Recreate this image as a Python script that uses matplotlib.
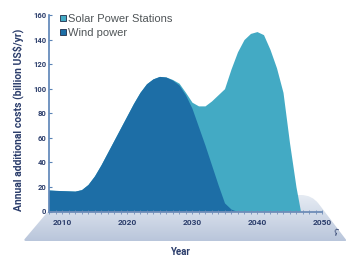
import matplotlib
matplotlib.use("Agg")
import matplotlib.pyplot as plt
import numpy as np
from matplotlib.path import Path
from matplotlib.patches import Patch, PathPatch
from matplotlib.colors import LinearSegmentedColormap
import matplotlib.font_manager as fm

# ---------------- data ----------------
years = [2008, 2009, 2010, 2011, 2012, 2013, 2014, 2015, 2016, 2017,
         2018, 2019, 2020, 2021, 2022, 2023, 2024, 2025, 2026, 2027,
         2028, 2029, 2030, 2031, 2032, 2033, 2034, 2035, 2036, 2037,
         2038, 2039, 2040, 2041, 2042, 2043, 2044, 2045, 2046, 2046.7]
wind = [17.5, 17.2, 17, 16.8, 16.6, 17.8, 22, 29, 38, 48,
        58, 68, 78, 88, 97, 104, 108, 110, 109.5, 107,
        103, 95, 84, 69, 54, 38, 22, 7, 2, 0,
        0, 0, 0, 0, 0, 0, 0, 0, 0, 0]
solar = [0, 0, 0, 0, 0, 0, 0, 0, 0, 0,
         0, 0, 0, 0, 0, 0, 0, 0, 0, 0.5,
         1.5, 2, 5, 17, 32, 52, 73, 93, 114, 130,
         140, 145, 146.5, 144, 132, 117, 97, 56, 20, 0]
series_names = ["Solar Power Stations", "Wind power"]
yticks = [0, 20, 40, 60, 80, 100, 120, 140, 160]
xticks = [2010, 2020, 2030, 2040, 2050]
ylabel = "Annual additional costs (billion US$/yr)"
xlabel = "Year"

# ---------------- style ----------------
W, H = 346, 258
wind_c = "#1d6ea6"
solar_c = "#43aac4"
navy = "#2b3d6b"
axis_c = "#5a83b6"

bold_fam = ["Roboto", "DejaVu Sans"]
narrow_fam = ["Liberation Sans Narrow", "Roboto", "DejaVu Sans"]

fig = plt.figure(figsize=(W / 100, H / 100), dpi=100)
fig.patch.set_facecolor("white")

def fx(px):
    return px / W

def fy(py):
    return 1 - py / H

# ---------- floor (perspective panel) ----------
bg = fig.add_axes([0, 0, 1, 1], zorder=0)
bg.set_xlim(0, W)
bg.set_ylim(H, 0)
bg.axis("off")

def rounded_path(pts, radii):
    verts, codes = [], []
    n = len(pts)
    for i in range(n):
        P = np.array(pts[i], float)
        A = np.array(pts[i - 1], float)
        B = np.array(pts[(i + 1) % n], float)
        r = radii[i]
        ua = (A - P) / np.linalg.norm(A - P)
        ub = (B - P) / np.linalg.norm(B - P)
        p1 = P + r * ua
        p2 = P + r * ub
        verts.append(tuple(p1))
        codes.append(Path.MOVETO if i == 0 else Path.LINETO)
        verts += [tuple(P), tuple(p2)]
        codes += [Path.CURVE3, Path.CURVE3]
    verts.append(verts[0])
    codes.append(Path.CLOSEPOLY)
    return Path(verts, codes)

floor_pts = [(62, 195), (312, 195), (347, 241), (23, 241)]
floor_path = rounded_path(floor_pts, [3, 11, 2, 3])
grad = np.linspace(0, 1, 100).reshape(-1, 1)
cmap = LinearSegmentedColormap.from_list("floor", ["#e6ebf3", "#b9c6db"])
im = bg.imshow(grad, cmap=cmap, extent=[0, W, 241, 195], aspect="auto",
               interpolation="bilinear")
clip = PathPatch(floor_path, transform=bg.transData, facecolor="none", edgecolor="none")
bg.add_patch(clip)
im.set_clip_path(clip)

# ---------- main axes ----------
ax = fig.add_axes([fx(49), fy(211.5), fx(322 - 49), (211.5 - 15) / H], zorder=2)
ax.patch.set_alpha(0)
ax.set_xlim(2008, 2050)
ax.set_ylim(0, 160)

w = np.array(wind)
s = np.array(solar)
ax.fill_between(years, 0, w + s, color=solar_c, lw=0, label=series_names[0])
ax.fill_between(years, 0, w, color=wind_c, lw=0, label=series_names[1])

for sp in ["top", "right"]:
    ax.spines[sp].set_visible(False)
ax.spines["left"].set_color(axis_c)
ax.spines["left"].set_linewidth(1.2)
ax.spines["bottom"].set_color("#6f8db8")
ax.spines["bottom"].set_linewidth(1.3)

ax.set_yticks(yticks)
ax.set_yticklabels([str(v) for v in yticks])
ax.set_xticks(xticks)
ax.set_xticklabels([str(v) for v in xticks])
ax.set_xticks(np.arange(2008, 2051, 1), minor=True)
ax.tick_params(axis="y", direction="in", length=2, width=0.8, color=axis_c,
               pad=2, labelsize=5.5, labelcolor=navy)
ax.tick_params(axis="x", which="both", direction="inout", length=2.5, width=0.6,
               color="#6f8db8", pad=4.5, labelsize=6, labelcolor=navy)
for lab in ax.get_yticklabels() + ax.get_xticklabels():
    lab.set_fontfamily(bold_fam)
    lab.set_fontweight("bold")

# legend
handles = [Patch(facecolor=solar_c, edgecolor="#1e2d4a", lw=0.6),
           Patch(facecolor=wind_c, edgecolor="#1e2d4a", lw=0.6)]
leg = ax.legend(handles, series_names, loc="upper left",
                bbox_to_anchor=(fx(60), fy(14)), bbox_transform=fig.transFigure,
                frameon=False, borderpad=0, borderaxespad=0,
                handlelength=0.55, handleheight=0.55, handletextpad=0.15,
                labelspacing=0.35,
                prop=fm.FontProperties(family=["Liberation Sans", "DejaVu Sans"], size=8))
for t in leg.get_texts():
    t.set_color("#505558")

# axis labels
yl = fig.text(fx(18), fy(120), ylabel, rotation=90, ha="center", va="center",
              color=navy, fontweight="bold", family=narrow_fam, fontsize=7)
xl = fig.text(fx(180), fy(252), xlabel, ha="center", va="center",
              color=navy, fontweight="bold", family=bold_fam, fontsize=7)
fig.text(fx(336), fy(233), "ʕ", ha="center", va="center", color=navy,
         fontsize=6.5, rotation=-15, family=["DejaVu Sans"])

# fit y label length to the reference
fig.canvas.draw()
bb = yl.get_window_extent()
yl.set_fontsize(7 * 184 / bb.height)

fig.savefig("out.png", dpi=100)
